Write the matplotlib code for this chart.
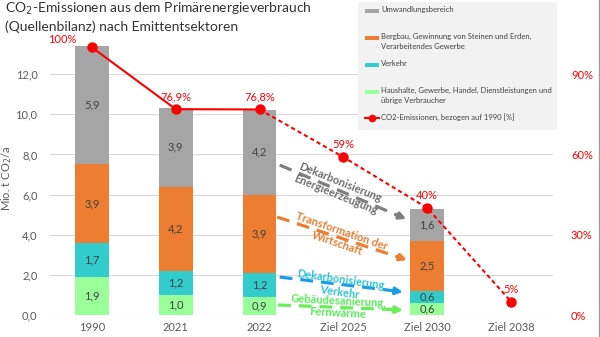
import matplotlib
matplotlib.use("Agg")
import matplotlib.pyplot as plt
from matplotlib.patches import Rectangle
from matplotlib.lines import Line2D
import numpy as np

plt.rcParams['font.family'] = ['Lato', 'DejaVu Sans']

categories = ["1990", "2021", "2022", "Ziel 2025", "Ziel 2030", "Ziel 2038"]
haushalte = [1.9, 1.0, 0.9, 0, 0.6, 0]
verkehr = [1.7, 1.2, 1.2, 0, 0.6, 0]
bergbau = [3.9, 4.2, 3.9, 0, 2.5, 0]
umwandlung = [5.9, 3.9, 4.2, 0, 1.6, 0]
pct = [100, 76.9, 76.8, 59, 40, 5]
pct_labels = ["100%", "76,9%", "76,8%", "59%", "40%", "5%"]
left_ticks = [0, 2, 4, 6, 8, 10, 12]
right_ticks = [0, 30, 60, 90]

series = [
    (haushalte, "#99FF99", "Haushalte, Gewerbe, Handel, Dienstleistungen und\nübrige Verbraucher"),
    (verkehr, "#33CCCC", "Verkehr"),
    (bergbau, "#ED7D31", "Bergbau, Gewinnung von Steinen und Erden,\nVerarbeitendes Gewerbe"),
    (umwandlung, "#A5A5A5", "Umwandlungsbereich"),
]

fig = plt.figure(figsize=(6, 3.37), dpi=100)
ax = fig.add_axes([50/600, 1-315/337, 503/600, (315-36)/337])
x = np.arange(len(categories))
YMAX = 13.9
ax.set_xlim(-0.5, 5.5)
ax.set_ylim(0, YMAX)

bottom = np.zeros(len(categories))
for vals, col, lab in series:
    v = np.array(vals, dtype=float)
    ax.bar(x, v, width=0.4, bottom=bottom, color=col, zorder=2)
    for i, val in enumerate(v):
        if val > 0:
            ax.text(x[i], bottom[i] + val/2, f"{val:.1f}".replace('.', ','),
                    ha='center', va='center', fontsize=8, color='#404040', zorder=3)
    bottom += v

ax.set_yticks(left_ticks)
ax.set_yticklabels([f"{t:.1f}".replace('.', ',') for t in left_ticks])
ax.set_xticks(x)
ax.set_xticklabels(categories)
ax.tick_params(axis='y', length=0, pad=9, labelsize=8, labelcolor='#595959')
ax.tick_params(axis='x', length=0, pad=5, labelsize=8, labelcolor='#595959')
ax.grid(axis='y', color='#D9D9D9', lw=0.8, zorder=0)
ax.set_axisbelow(True)
for s in ax.spines.values():
    s.set_visible(False)
ax.set_ylabel("Mio. t CO$_2$/a", fontsize=8, color='#595959')
ax.yaxis.set_label_coords(-0.072, 0.49)

# secondary axis
ax2 = ax.twinx()
ax2.set_ylim(0, YMAX * 7.5)
ax2.set_yticks(right_ticks)
ax2.set_yticklabels([f"{t}%" for t in right_ticks])
ax2.tick_params(axis='y', length=0, pad=13, labelsize=8, labelcolor='#FF0000')
for s in ax2.spines.values():
    s.set_visible(False)

ax2.plot(x[:3], pct[:3], color='#FF0000', lw=1.5, zorder=4)
ax2.plot(x[2:], pct[2:], color='#FF0000', lw=1.5, ls=(0, (2, 1.5)), zorder=4)
ax2.plot(x, pct, 'o', color='#FF0000', ms=6.5, zorder=5)
for i, (p, l) in enumerate(zip(pct, pct_labels)):
    if i == 0:
        ax2.annotate(l, (x[i], p), xytext=(-30, 2), textcoords='offset pixels',
                     ha='center', va='bottom', fontsize=8, color='#FF0000')
    else:
        ax2.annotate(l, (x[i], p), xytext=(0, 7), textcoords='offset pixels',
                     ha='center', va='bottom', fontsize=8, color='#FF0000')

# annotation arrows
arrows = [
    ((2.24, 7.47), (3.75, 4.78), '#7F7F7F', '#6E6E6E', "Dekarbonisierung\nEnergieerzeugung", (2.93, 6.30), -22),
    ((2.21, 4.88), (3.76, 2.74), '#ED7D31', '#ED7D31', "Transformation der\nWirtschaft", (2.95, 3.85), -19),
    ((2.24, 1.89), (3.71, 1.15), '#1E9BE6', '#2BC4D4', "Dekarbonisierung\nVerkehr", (2.96, 1.45), -8),
    ((2.22, 0.50), (3.71, 0.25), '#66EE55', '#55EE55', "Gebäudesanierung,\nFernwärme", (2.94, 0.40), -3),
]
for (x0, y0), (x1, y1), acol, tcol, txt, (tx, ty), rot in arrows:
    f = 0.92
    xm, ym = x0 + (x1 - x0) * f, y0 + (y1 - y0) * f
    ax.plot([x0, xm], [y0, ym], color=acol, lw=2.3, ls=(0, (4, 2.5)), zorder=6,
            solid_capstyle='butt', dash_capstyle='butt')
    ax.annotate('', xy=(x1, y1), xytext=(xm, ym),
                arrowprops=dict(arrowstyle='-|>', color=acol, lw=2.3, mutation_scale=10,
                                shrinkA=0, shrinkB=0), zorder=6)
    ax.text(tx, ty, txt, color=tcol, fontsize=8, fontweight='bold', ha='center', va='center',
            rotation=rot, rotation_mode='anchor', linespacing=1.2, zorder=7, clip_on=False)

# legend (manual)
fig.patches.append(Rectangle((358/600, 1-130/337), 199/600, 128/337, transform=fig.transFigure,
                             facecolor='#F2F2F2', edgecolor='none', zorder=1))
leg_items = [
    ("#A5A5A5", "Umwandlungsbereich", 11, 'bar'),
    ("#ED7D31", "Bergbau, Gewinnung von Steinen und Erden,\nVerarbeitendes Gewerbe", 38, 'bar'),
    ("#33CCCC", "Verkehr", 65, 'bar'),
    ("#99FF99", "Haushalte, Gewerbe, Handel, Dienstleistungen und\nübrige Verbraucher", 92, 'bar'),
    ("#FF0000", "CO2-Emissionen, bezogen auf 1990 [%]", 118, 'line'),
]
for col, lab, py, kind in leg_items:
    yf = 1 - py/337
    if kind == 'bar':
        fig.patches.append(Rectangle((365/600, yf - 2/337), 14/600, 4/337, transform=fig.transFigure,
                                     facecolor=col, edgecolor='none', zorder=2))
    else:
        fig.lines.append(Line2D([365/600, 379/600], [yf, yf], transform=fig.transFigure,
                                color=col, lw=1.5, zorder=2))
        fig.lines.append(Line2D([372/600], [yf], transform=fig.transFigure, marker='o',
                                color=col, ms=4.5, zorder=3))
    fig.text(381/600, yf + 5/337, lab, fontsize=5.5, color='#404040', ha='left', va='top',
             linespacing=1.55, zorder=3)

# title
fig.text(5/600, 1 - 1/337, "CO$_2$-Emissionen aus dem Primärenergieverbrauch\n(Quellenbilanz) nach Emittentsektoren",
         fontsize=10, color='#333333', ha='left', va='top', linespacing=1.25)

# right border
fig.lines.append(Line2D([599/600, 599/600], [0, 1], transform=fig.transFigure, color='#A0A0A0', lw=1))

fig.savefig("out.png", dpi=100)
